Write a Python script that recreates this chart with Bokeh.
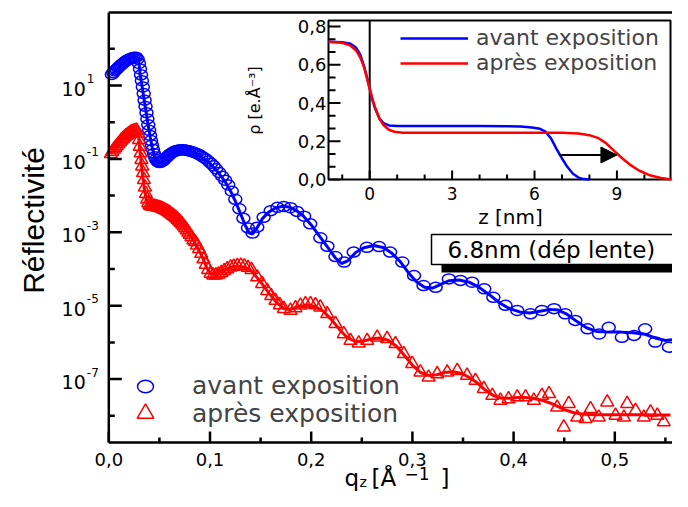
import math
import numpy as np
from bokeh.plotting import figure
from bokeh.models import (Range1d, LinearScale, LogScale, Legend, LegendItem, Label, Arrow, NormalHead)
from bokeh.embed import file_html
from bokeh.resources import INLINE
from bokeh.core.properties import value

# ---------------- data: reflectivity (log10 of R) ----------------
blue_q = [0.003, 0.0045, 0.006, 0.0075, 0.009, 0.0105, 0.012, 0.0135, 0.015, 0.0165,
          0.018, 0.0195, 0.021, 0.0225, 0.024, 0.0255, 0.027, 0.0285, 0.0298, 0.0308,
          0.0318, 0.0327, 0.0336, 0.0345, 0.0354, 0.0363, 0.0372, 0.0381, 0.039, 0.0399,
          0.0408, 0.0417, 0.0426, 0.0436, 0.0446, 0.0456, 0.0467, 0.0478, 0.049, 0.0502,
          0.0515, 0.0528, 0.0541, 0.0555, 0.057, 0.0585, 0.060, 0.0615, 0.063, 0.0645,
          0.066, 0.0675, 0.069, 0.0705, 0.072, 0.0738, 0.0756, 0.0774, 0.0792, 0.081,
          0.083, 0.085, 0.087, 0.0892, 0.0914, 0.0936, 0.096, 0.0985, 0.101, 0.1035,
          0.106, 0.109, 0.112, 0.115, 0.118, 0.1215, 0.125, 0.129, 0.133, 0.1375,
          0.142, 0.1467, 0.153, 0.160, 0.1667, 0.173, 0.1795, 0.186, 0.193, 0.199,
          0.209, 0.216, 0.224, 0.2325, 0.242, 0.255, 0.267, 0.278, 0.290, 0.3016,
          0.311, 0.323, 0.336, 0.3475, 0.359, 0.371, 0.380, 0.392, 0.4036, 0.4167,
          0.428, 0.440, 0.451, 0.461, 0.473, 0.4845, 0.494, 0.507, 0.519, 0.530,
          0.540, 0.5535, 0.565]
blue_logR = [1.30, 1.35, 1.40, 1.44, 1.48, 1.52, 1.56, 1.59, 1.63, 1.66,
             1.69, 1.71, 1.73, 1.75, 1.76, 1.77, 1.77, 1.72, 1.60, 1.45,
             1.29, 1.13, 0.96, 0.78, 0.60, 0.43, 0.26, 0.09, -0.07, -0.22,
             -0.36, -0.50, -0.62, -0.74, -0.85, -0.94, -1.01, -1.06, -1.09, -1.10,
             -1.09, -1.07, -1.04, -1.00, -0.96, -0.92, -0.88, -0.85, -0.82, -0.80,
             -0.78, -0.77, -0.76, -0.755, -0.75, -0.75, -0.76, -0.77, -0.78, -0.79,
             -0.81, -0.83, -0.85, -0.88, -0.92, -0.96, -1.00, -1.06, -1.12, -1.19,
             -1.27, -1.37, -1.47, -1.58, -1.71, -1.88, -2.10, -2.36, -2.62, -2.88,
             -3.02, -2.86, -2.59, -2.41, -2.32, -2.30, -2.33, -2.43, -2.56, -2.77,
             -3.15, -3.38, -3.66, -3.81, -3.54, -3.41, -3.39, -3.54, -3.81, -4.18,
             -4.45, -4.50, -4.27, -4.31, -4.36, -4.54, -4.77, -4.99, -5.13, -5.22,
             -5.13, -5.08, -5.22, -5.40, -5.63, -5.77, -5.59, -5.86, -5.81, -5.63,
             -5.99, -6.13, -5.90]

red_q = [0.002, 0.0035, 0.005, 0.0065, 0.008, 0.0095, 0.011, 0.0125, 0.014, 0.0155,
         0.017, 0.0185, 0.020, 0.0215, 0.023, 0.0245, 0.026, 0.0275, 0.0288, 0.0298,
         0.0306, 0.0314, 0.0322, 0.033, 0.0338, 0.0347, 0.0357, 0.0367, 0.0378, 0.039,
         0.0403, 0.0416, 0.043, 0.0444, 0.0458, 0.0472, 0.0486, 0.050, 0.0515, 0.053,
         0.0545, 0.056, 0.0575, 0.059, 0.0605, 0.062, 0.0635, 0.065, 0.0665, 0.068,
         0.0695, 0.071, 0.0725, 0.074, 0.0755, 0.077, 0.0785, 0.080, 0.0817, 0.0835,
         0.0853, 0.0872, 0.0892, 0.0913, 0.0935, 0.0958, 0.0982, 0.1006, 0.1032, 0.1058,
         0.1085, 0.1112, 0.114, 0.117, 0.1203, 0.1235, 0.127, 0.1305, 0.134, 0.1375,
         0.141, 0.1466, 0.1515, 0.1565, 0.1605, 0.1647, 0.169, 0.173, 0.1795, 0.1845,
         0.1894, 0.1943, 0.1993, 0.2042, 0.209, 0.2158, 0.224, 0.2322, 0.2388, 0.247,
         0.2553, 0.2652, 0.275, 0.2833, 0.2915, 0.2998, 0.308, 0.316, 0.3245, 0.3344,
         0.3443, 0.354, 0.3623, 0.3706, 0.379, 0.387, 0.395, 0.4036, 0.4118, 0.42,
         0.428, 0.435, 0.443, 0.4496, 0.4545, 0.4628, 0.471, 0.476, 0.4842, 0.4925,
         0.5007, 0.509, 0.5122, 0.5205, 0.5287, 0.5353, 0.542, 0.5484]
red_logR = [-0.86, -0.80, -0.74, -0.69, -0.64, -0.59, -0.54, -0.49, -0.45, -0.41,
            -0.37, -0.34, -0.31, -0.28, -0.26, -0.24, -0.23, -0.22, -0.30, -0.48,
            -0.66, -0.84, -1.02, -1.20, -1.38, -1.57, -1.77, -1.95, -2.10, -2.20,
            -2.26, -2.28, -2.29, -2.29, -2.30, -2.31, -2.32, -2.33, -2.34, -2.36,
            -2.38, -2.40, -2.42, -2.45, -2.48, -2.51, -2.54, -2.57, -2.61, -2.65,
            -2.69, -2.73, -2.78, -2.83, -2.88, -2.94, -3.00, -3.06, -3.13, -3.21,
            -3.26, -3.35, -3.45, -3.58, -3.73, -3.88, -4.02, -4.12, -4.17, -4.17,
            -4.14, -4.10, -4.05, -4.00, -3.95, -3.93, -3.91, -3.90, -3.92, -3.96,
            -4.02, -4.22, -4.40, -4.59, -4.73, -4.86, -4.98, -5.08, -5.13, -5.06,
            -4.99, -4.95, -4.95, -4.98, -5.04, -5.22, -5.49, -5.77, -5.95, -6.02,
            -5.95, -5.86, -5.90, -6.04, -6.31, -6.58, -6.81, -6.95, -6.86, -6.81,
            -6.77, -6.90, -7.04, -7.26, -7.45, -7.58, -7.54, -7.49, -7.49, -7.58,
            -7.45, -7.40, -7.77, -8.31, -7.67, -8.04, -8.08, -7.81, -8.04, -7.63,
            -7.99, -8.04, -7.67, -7.86, -8.04, -7.90, -7.99, -8.17]

blue_fit_q = [0.003, 0.010, 0.018, 0.024, 0.027, 0.029, 0.030, 0.031, 0.033, 0.035,
              0.037, 0.039, 0.041, 0.043, 0.045, 0.047, 0.049, 0.052, 0.056, 0.060,
              0.065, 0.070, 0.075, 0.080, 0.085, 0.090, 0.095, 0.100, 0.105, 0.110,
              0.115, 0.120, 0.125, 0.130, 0.135, 0.139, 0.142, 0.146, 0.152, 0.158,
              0.165, 0.172, 0.178, 0.185, 0.192, 0.200, 0.208, 0.216, 0.224, 0.230,
              0.236, 0.244, 0.252, 0.262, 0.272, 0.280, 0.288, 0.296, 0.304, 0.312,
              0.320, 0.328, 0.336, 0.346, 0.356, 0.366, 0.376, 0.386, 0.396, 0.406,
              0.416, 0.426, 0.436, 0.444, 0.452, 0.462, 0.472, 0.482, 0.494, 0.506,
              0.518, 0.530, 0.540, 0.550, 0.560, 0.570]
blue_fit_logR = [1.30, 1.50, 1.68, 1.76, 1.78, 1.72, 1.55, 1.30, 0.95, 0.60,
                 0.25, -0.10, -0.42, -0.70, -0.92, -1.05, -1.10, -1.08, -0.98, -0.88,
                 -0.80, -0.76, -0.75, -0.78, -0.84, -0.92, -1.02, -1.13, -1.27, -1.44,
                 -1.62, -1.86, -2.15, -2.48, -2.82, -3.02, -3.05, -2.90, -2.62, -2.45,
                 -2.33, -2.29, -2.31, -2.40, -2.55, -2.80, -3.10, -3.40, -3.70, -3.85,
                 -3.78, -3.55, -3.42, -3.36, -3.42, -3.58, -3.80, -4.10, -4.35, -4.50,
                 -4.52, -4.42, -4.32, -4.30, -4.36, -4.50, -4.70, -4.92, -5.08, -5.17,
                 -5.20, -5.15, -5.10, -5.12, -5.22, -5.42, -5.60, -5.70, -5.72, -5.72,
                 -5.74, -5.78, -5.88, -5.95, -5.92, -5.88]

red_fit_q = [0.002, 0.010, 0.018, 0.024, 0.027, 0.029, 0.030, 0.031, 0.033, 0.035,
             0.037, 0.039, 0.042, 0.048, 0.055, 0.062, 0.070, 0.078, 0.085, 0.092,
             0.097, 0.101, 0.106, 0.112, 0.120, 0.128, 0.135, 0.142, 0.150, 0.158,
             0.166, 0.173, 0.180, 0.188, 0.196, 0.204, 0.212, 0.220, 0.228, 0.236,
             0.244, 0.252, 0.260, 0.268, 0.276, 0.284, 0.292, 0.300, 0.308, 0.316,
             0.324, 0.332, 0.340, 0.348, 0.356, 0.364, 0.372, 0.380, 0.388, 0.396,
             0.404, 0.412, 0.420, 0.428, 0.436, 0.444, 0.452, 0.460, 0.470, 0.480,
             0.490, 0.500, 0.510, 0.520, 0.530, 0.540, 0.555]
red_fit_logR = [-0.86, -0.58, -0.36, -0.25, -0.22, -0.30, -0.55, -0.85, -1.35, -1.80,
                -2.10, -2.25, -2.30, -2.32, -2.40, -2.52, -2.72, -2.98, -3.28, -3.65,
                -3.98, -4.13, -4.15, -4.05, -3.96, -3.92, -3.96, -4.08, -4.35, -4.65,
                -4.92, -5.08, -5.10, -5.02, -4.98, -5.02, -5.15, -5.38, -5.65, -5.88,
                -5.98, -5.96, -5.90, -5.88, -5.94, -6.10, -6.35, -6.62, -6.82, -6.90,
                -6.88, -6.82, -6.80, -6.84, -6.95, -7.10, -7.30, -7.45, -7.52, -7.52,
                -7.50, -7.50, -7.53, -7.58, -7.65, -7.75, -7.85, -7.92, -7.96, -7.97,
                -7.97, -7.97, -7.97, -7.97, -7.97, -7.98, -7.98]

# ---------------- data: electron density profiles (inset) ----------------
avant_z = [-1.5, -1.0, -0.7, -0.5, -0.35, -0.2, -0.1, 0.0, 0.1, 0.2,
           0.35, 0.5, 0.7, 1.0, 2.0, 3.0, 4.0, 5.0, 5.5, 5.9,
           6.2, 6.4, 6.6, 6.8, 7.0, 7.2, 7.4, 7.6, 7.8, 8.0]
avant_rho = [0.72, 0.718, 0.71, 0.69, 0.655, 0.59, 0.535, 0.475, 0.415, 0.37,
             0.32, 0.295, 0.283, 0.28, 0.28, 0.28, 0.28, 0.279, 0.277, 0.272,
             0.265, 0.25, 0.215, 0.16, 0.11, 0.065, 0.03, 0.01, 0.002, 0.0]
apres_z = [-1.5, -1.0, -0.7, -0.5, -0.35, -0.2, -0.1, 0.0, 0.1, 0.2,
           0.35, 0.5, 0.7, 0.9, 1.2, 2.0, 4.0, 6.0, 7.0, 7.6,
           8.0, 8.3, 8.6, 8.9, 9.2, 9.5, 9.8, 10.2, 10.6, 11.0]
apres_rho = [0.72, 0.715, 0.70, 0.675, 0.64, 0.585, 0.53, 0.475, 0.42, 0.375,
             0.32, 0.285, 0.26, 0.25, 0.245, 0.245, 0.245, 0.245, 0.244, 0.24,
             0.232, 0.218, 0.19, 0.15, 0.11, 0.075, 0.047, 0.022, 0.008, 0.0]
arrow_z_start, arrow_z_end, arrow_rho = 6.92, 9.0, 0.128

# ticks / labels
x_major = [0.0, 0.1, 0.2, 0.3, 0.4, 0.5]
x_minor = [0.05, 0.15, 0.25, 0.35, 0.45, 0.55]
y_major_exp = [1, -1, -3, -5, -7]
y_minor_exp = [2, 0, -2, -4, -6, -8]
inset_z_major = [0, 3, 6, 9]
inset_z_minor = [-1, 1, 2, 4, 5, 7, 8, 10]
inset_rho_major = [0.0, 0.2, 0.4, 0.6, 0.8]
inset_rho_minor = [0.0667, 0.1333, 0.2667, 0.3333, 0.4667, 0.5333, 0.6667, 0.7333]

BLUE = "#0000ff"
RED = "#ff0000"
FONT = "DejaVu Sans"
W, H = 672, 491

# ---------------- geometry (canvas pixels) ----------------
AX_L, AX_T, AX_B = 108.3, 12, 442          # main axes box
PX_Q, PX_DEC, PY_REF, LOG_REF = 1012.0, 36.7, 85.0, 1.0
log_top_canvas = LOG_REF + PY_REF / PX_DEC
log_bot_canvas = LOG_REF - (H - PY_REF) / PX_DEC
log_axis_bot = LOG_REF - (AX_B - PY_REF) / PX_DEC
log_axis_top = LOG_REF + (PY_REF - AX_T) / PX_DEC
q_lo_canvas = -AX_L / PX_Q
q_hi_canvas = (W - AX_L) / PX_Q

ins_l, ins_r, ins_t, ins_b = 328, 670, 20, 179   # inset box
z_lo, z_hi = -1.5, 10.95
rho_lo, rho_hi = 0.0, 0.8316
pxz = (ins_r - ins_l) / (z_hi - z_lo)
pxr = (ins_b - ins_t) / (rho_hi - rho_lo)

p = figure(width=W, height=H, output_backend="svg", toolbar_location=None,
           x_range=Range1d(q_lo_canvas, q_hi_canvas),
           y_range=Range1d(10 ** log_bot_canvas, 10 ** log_top_canvas),
           x_axis_location=None, y_axis_location=None, min_border=0)
p.y_scale = LogScale()
p.outline_line_color = None
p.grid.visible = False
p.background_fill_color = "white"
p.border_fill_color = "white"
p.extra_x_ranges = {"z": Range1d(z_lo - ins_l / pxz, z_hi + (W - ins_r) / pxz)}
p.extra_y_ranges = {"rho": Range1d(rho_lo - (H - ins_b) / pxr, rho_hi + ins_t / pxr)}
p.extra_x_scales = {"z": LinearScale()}
p.extra_y_scales = {"rho": LinearScale()}

# ---------------- main data ----------------
r_blue = p.ellipse(x=blue_q, y=10 ** np.array(blue_logR), width=13, height=10,
                   width_units="screen", height_units="screen",
                   fill_color=None, line_color=BLUE, line_width=1.5)
r_red = p.scatter(x=red_q, y=10 ** np.array(red_logR), marker="triangle", size=13,
                  fill_color=None, line_color=RED, line_width=1.5)
p.line(x=blue_fit_q, y=10 ** np.array(blue_fit_logR), line_color=BLUE, line_width=3)
p.line(x=red_fit_q, y=10 ** np.array(red_fit_logR), line_color=RED, line_width=3)

# ---------------- main axes (drawn) ----------------
yb, yt = 10 ** log_axis_bot, 10 ** log_axis_top
p.segment(x0=[0, 0, 0], y0=[yb, yb, yt], x1=[0, 1, 1], y1=[yt, yb, yt],
          line_color="black", line_width=2.5)
p.ray(x=x_major, y=[yb] * len(x_major), length=11, length_units="screen", angle=math.pi / 2,
      line_color="black", line_width=2.5)
p.ray(x=x_minor, y=[yb] * len(x_minor), length=5, length_units="screen", angle=math.pi / 2,
      line_color="black", line_width=2.5)
y_major = [10.0 ** e for e in y_major_exp]
y_minor = [10.0 ** e for e in y_minor_exp]
p.ray(x=[0] * len(y_major), y=y_major, length=13, length_units="screen", angle=0,
      line_color="black", line_width=2.5)
p.ray(x=[0] * len(y_minor), y=y_minor, length=6, length_units="screen", angle=0,
      line_color="black", line_width=2.5)
p.text(x=x_major, y=[yb] * len(x_major), text=[f"{v:.1f}".replace(".", ",") for v in x_major],
       text_align="center", text_baseline="top", y_offset=10, text_font=value(FONT),
       text_font_size="18px", text_color="black")
p.text(x=[0] * len(y_major), y=y_major, text=["10"] * len(y_major), text_align="right",
       text_baseline="middle", x_offset=-23, y_offset=3, text_font=value(FONT),
       text_font_size="19px", text_color="black")
p.text(x=[0] * len(y_major), y=y_major, text=[str(e) for e in y_major_exp], text_align="left",
       text_baseline="middle", x_offset=-22, y_offset=-7, text_font=value(FONT),
       text_font_size="12px", text_color="black")

# ---------------- inset ----------------
kw = dict(x_range_name="z", y_range_name="rho")
p.quad(left=[z_lo], right=[z_hi], bottom=[rho_lo], top=[rho_hi], fill_color="white",
       line_color="black", line_width=2, **kw)
p.segment(x0=[0], y0=[rho_lo], x1=[0], y1=[rho_hi], line_color="black", line_width=2, **kw)
p.ray(x=inset_z_major, y=[rho_lo] * len(inset_z_major), length=9, length_units="screen",
      angle=math.pi / 2, line_color="black", line_width=2, **kw)
p.ray(x=inset_z_minor, y=[rho_lo] * len(inset_z_minor), length=5, length_units="screen",
      angle=math.pi / 2, line_color="black", line_width=2, **kw)
p.ray(x=[z_lo] * len(inset_rho_major), y=inset_rho_major, length=12, length_units="screen",
      angle=0, line_color="black", line_width=2, **kw)
p.ray(x=[z_lo] * len(inset_rho_minor), y=inset_rho_minor, length=7, length_units="screen",
      angle=0, line_color="black", line_width=2, **kw)
p.text(x=inset_z_major, y=[rho_lo] * len(inset_z_major), text=[str(v) for v in inset_z_major],
       text_align="center", text_baseline="top", y_offset=7, text_font=value(FONT),
       text_font_size="17px", text_color="black", **kw)
p.text(x=[z_lo] * len(inset_rho_major), y=inset_rho_major,
       text=[f"{v:.1f}".replace(".", ",") for v in inset_rho_major],
       text_align="right", text_baseline="middle", x_offset=-2, text_font=value(FONT),
       text_font_size="18px", text_color="black", **kw)
r_av = p.line(x=avant_z, y=avant_rho, line_color=BLUE, line_width=2.5, **kw)
r_ap = p.line(x=apres_z, y=apres_rho, line_color=RED, line_width=2.5, **kw)
p.add_layout(Arrow(x_start=arrow_z_start, y_start=arrow_rho, x_end=arrow_z_end, y_end=arrow_rho,
                   line_color="black", line_width=2,
                   end=NormalHead(size=16, fill_color="black", line_color="black"), **kw))

# ---------------- legends ----------------
common = dict(padding=0, margin=0, spacing=0, border_line_color=None,
              background_fill_color=None, label_text_font=FONT)
leg1 = Legend(items=[LegendItem(label="avant exposition", renderers=[r_blue])],
              location=(135, 91), glyph_width=20, glyph_height=20, label_standoff=37,
              label_text_font_size="25px", **common)
leg2 = Legend(items=[LegendItem(label="après exposition", renderers=[r_red])],
              location=(124, 57), glyph_width=42, glyph_height=42, label_standoff=26,
              label_text_font_size="25px", **common)
leg3 = Legend(items=[LegendItem(label="avant exposition", renderers=[r_av]),
                     LegendItem(label="après exposition", renderers=[r_ap])],
              location=(400, 416), glyph_width=68, glyph_height=22, label_standoff=8,
              label_text_font_size="22px", **common)
for lg in (leg1, leg2, leg3):
    p.add_layout(lg)

# ---------------- text annotations (screen coords from canvas bottom-left) ----------------
def lab(text, x, y, size, font=FONT, align="left", baseline="middle", angle=0, **extra):
    p.add_layout(Label(text=text, x=x, y=H - y, x_units="screen", y_units="screen",
                       text_font=font, text_font_size=size, text_align=align,
                       text_baseline=baseline, angle=angle, text_color=extra.pop("color", "black"),
                       **extra))

lab("Réflectivité", 33, 220, "30px", font="Liberation Sans", align="center", angle=math.pi / 2)
lab("q", 344, 477, "23px")
lab("z", 359, 481, "14px")
lab("[Å", 371, 477, "23px")
lab("\u22121", 404, 473, "17px")
lab("]", 440, 477, "23px")
lab("ρ [e.Å\u207b\u00b3]", 254, 100, "16px", align="center", angle=math.pi / 2)
lab("z [nm]", 510, 216, "20px", align="center")

lab("6.8nm (dép lente)", 441, 257, "23px", color="black",
    background_fill_color="black", padding=(16, 40, 2, 2))
lab("6.8nm (dép lente)", 431, 249, "23px",
    background_fill_color="white", border_line_color="black", border_line_width=1.5,
    padding=(16, 40, 2, 2))

open("out.html", "w", encoding="utf-8").write(file_html(p, INLINE))
